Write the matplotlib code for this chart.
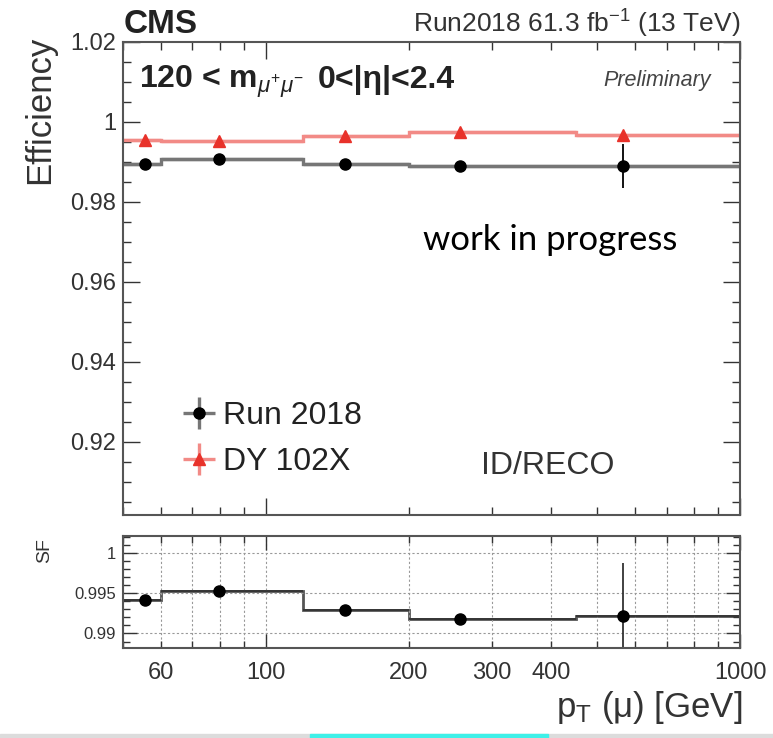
import matplotlib
matplotlib.use('Agg')
import matplotlib.pyplot as plt
import matplotlib.ticker as mticker
from matplotlib.patches import Rectangle
import numpy as np

plt.rcParams['font.family'] = ['Liberation Sans', 'DejaVu Sans']
plt.rcParams['mathtext.fontset'] = 'custom'
plt.rcParams['mathtext.rm'] = 'Liberation Sans'
plt.rcParams['mathtext.it'] = 'Liberation Sans:italic'
plt.rcParams['mathtext.bf'] = 'Liberation Sans:bold'

# pT binning [GeV] and mean muon pT in each bin
pt_edges = [50, 60, 120, 200, 450, 1000]
pt_mean = [55.6, 79.5, 147, 257, 567]

# ID/RECO efficiency: Run 2018 data and DY 102X simulation
eff_data = [0.9896, 0.9907, 0.9894, 0.9890, 0.9890]
eff_data_err = [0.0004, 0.0003, 0.0003, 0.0004, 0.0054]
eff_mc = [0.9954, 0.9952, 0.9966, 0.9974, 0.9967]
eff_mc_err = [0.0002, 0.0002, 0.0002, 0.0002, 0.0003]

# data/MC scale factors
sf = [0.9941, 0.9953, 0.9929, 0.9918, 0.9922]
sf_err = [0.0003, 0.0003, 0.0003, 0.0004, 0.0066]

W, H = 773, 738
data_line = '#767676'
mc_line = '#f28a86'


def rect(l, t, r, b):
    return [l / W, 1 - b / H, (r - l) / W, (b - t) / H]


def ftext(x, y, s, **kw):
    return fig.text(x / W, 1 - y / H, s, **kw)


fig = plt.figure(figsize=(W / 100, H / 100), dpi=100)
ax = fig.add_axes(rect(123, 42, 740, 515))
rax = fig.add_axes(rect(123, 536, 740, 648))

x = np.array(pt_mean)
xerr = [x - np.array(pt_edges[:-1]), np.array(pt_edges[1:]) - x]

# efficiency panel
ax.stairs(eff_mc, pt_edges, baseline=None, color=mc_line, lw=2.4)
ax.stairs(eff_data, pt_edges, baseline=None, color=data_line, lw=2.4)
h_data = ax.errorbar(x, eff_data, yerr=eff_data_err, xerr=xerr, fmt='o',
                     color='black', ms=8, elinewidth=1.3, capsize=0)
h_mc = ax.errorbar(x, eff_mc, yerr=eff_mc_err, xerr=xerr, fmt='^',
                   color='#e8322a', ms=8, elinewidth=1.3, capsize=0)
# horizontal bars take the softer colour of the bin outline
h_data.lines[2][0].set_color(data_line)
h_data.lines[2][0].set_linewidth(2.4)
h_mc.lines[2][0].set_color(mc_line)
h_mc.lines[2][0].set_linewidth(2.4)

# scale factor panel
rax.stairs(sf, pt_edges, baseline=None, color='#555555', lw=2.0)
rax.errorbar(x, sf, yerr=sf_err, xerr=xerr, fmt='o', color='black',
             ecolor='#333333', ms=8, elinewidth=1.3, capsize=0)

for a in (ax, rax):
    a.set_xscale('log')
    a.set_xlim(50, 1000)
    a.xaxis.set_major_locator(mticker.FixedLocator([100, 1000]))
    a.xaxis.set_minor_locator(mticker.LogLocator(subs=np.arange(2, 10)))
    a.tick_params(which='both', direction='in', top=True, right=True,
                  width=1.0, colors='#333333', labelcolor='#333333')
    for s in a.spines.values():
        s.set_linewidth(1.5)
        s.set_color('#555555')

ax.set_ylim(0.9017, 1.02)
ax.yaxis.set_major_locator(mticker.FixedLocator([0.92, 0.94, 0.96, 0.98, 1.0, 1.02]))
ax.yaxis.set_minor_locator(mticker.MultipleLocator(0.005))
ax.yaxis.set_major_formatter(mticker.FuncFormatter(lambda v, p: f'{v:g}'))
ax.xaxis.set_major_formatter(mticker.NullFormatter())
ax.xaxis.set_minor_formatter(mticker.NullFormatter())
ax.tick_params(which='major', length=12, labelsize=17, pad=5)
ax.tick_params(which='minor', length=6)

rax.set_ylim(0.9882, 1.0021)
rax.yaxis.set_major_locator(mticker.FixedLocator([0.99, 0.995, 1.0]))
rax.yaxis.set_minor_locator(mticker.MultipleLocator(0.001))
rax.yaxis.set_major_formatter(mticker.FuncFormatter(lambda v, p: f'{v:g}'))
shown = {60, 200, 300, 400}
rax.xaxis.set_major_formatter(mticker.FuncFormatter(lambda v, p: f'{v:g}'))
rax.xaxis.set_minor_formatter(mticker.FuncFormatter(
    lambda v, p: f'{v:g}' if round(v) in shown else ''))
rax.tick_params(which='major', length=10, pad=5)
rax.tick_params(which='minor', length=5)
rax.tick_params(axis='x', which='both', labelsize=17, pad=10)
rax.tick_params(axis='y', which='both', labelsize=12)
rax.grid(which='both', axis='x', ls=(0, (2, 2)), color='#999999', lw=0.8)
rax.grid(which='major', axis='y', ls=(0, (2, 2)), color='#999999', lw=0.8)

# legend
leg = ax.legend([h_data, h_mc], ['Run 2018', 'DY 102X'], frameon=False,
                fontsize=23, handlelength=1.0, handletextpad=0.25,
                labelspacing=0.5, loc='upper left',
                bbox_to_anchor=(154 / W, 1 - 372 / H),
                bbox_transform=fig.transFigure)
for t in leg.get_texts():
    t.set_color('#222222')

# labels and annotations
ftext(40, 36, 'Efficiency', rotation=90, ha='center', va='top', size=25,
      color='#333333')
ftext(45, 551, 'SF', rotation=90, ha='center', va='center', size=14,
      color='#333333')
ftext(742, 717, r'p$_{\rm T}$ (μ) [GeV]', ha='right', va='baseline', size=25,
      color='#333333')
ftext(124, 33, 'CMS', ha='left', va='baseline', size=24, weight='bold',
      color='#222222')
ftext(740, 33, r'Run2018 61.3 fb$^{-1}$ (13 TeV)', ha='right', va='baseline',
      size=19, color='#333333')
ftext(139, 88, r'120 < m$_{\mu^{+}\mu^{-}}$', ha='left', va='baseline',
      size=23, weight='bold', color='#222222')
ftext(318, 88, '0<|η|<2.4', ha='left', va='baseline', size=23,
      weight='bold', color='#222222')
ftext(711, 86, 'Preliminary', ha='right', va='baseline', size=15.5,
      style='italic', color='#444444')
ftext(548, 466, 'ID/RECO', ha='center', va='center', size=23,
      color='#333333')
ftext(550, 240, 'work in progress', ha='center', va='center', size=25,
      family='Lato', color='black')

# slide edge at the bottom
fig.patches.append(Rectangle((0, 0), 1, 4 / H, transform=fig.transFigure,
                             color='#dcdcdc', zorder=-1))
fig.patches.append(Rectangle((310 / W, 0), 238 / W, 4 / H,
                             transform=fig.transFigure, color='#3ff0e8',
                             zorder=0))

fig.savefig('out.png', dpi=100)
